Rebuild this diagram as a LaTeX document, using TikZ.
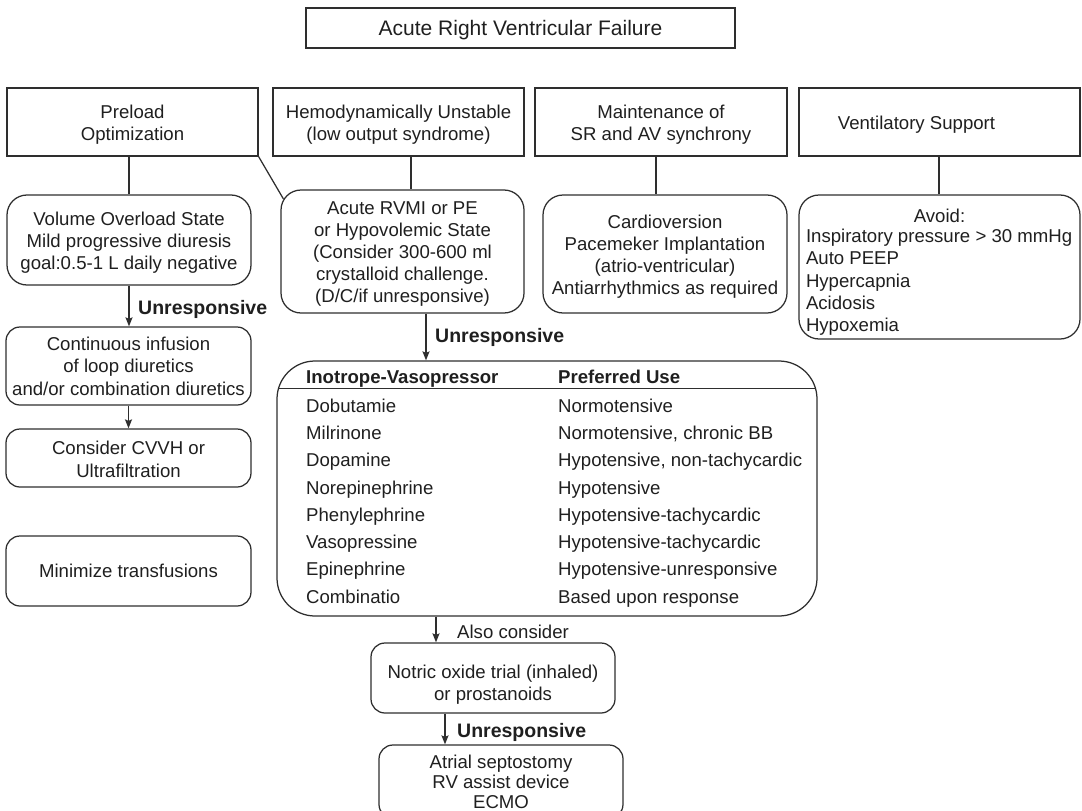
\documentclass[tikz,border=0pt]{standalone}
\usepackage{fontspec}
\setmainfont{Liberation Sans}
\usetikzlibrary{arrows.meta,calc}
\newcommand\topsp[1]{\rule{0pt}{#1pt}}
\tikzset{
  every node/.style={text=black!88},
  sq/.style={draw=black!82, line width=1.25pt, rectangle, inner sep=0pt, align=center,
             font=\fontsize{18.6}{22}\selectfont},
  rbox/.style={sq, rounded corners=20pt},
  sbox/.style={sq, rounded corners=14pt},
  conn/.style={draw=black!82, line width=1.25pt},
  arr/.style={conn, -{Stealth[length=9pt, width=7pt, inset=1.5pt]}},
  lbl/.style={anchor=base west, inner sep=0pt, font=\fontsize{19.5}{22}\selectfont\bfseries},
  cell/.style={anchor=base west, inner sep=0pt, font=\fontsize{18.6}{22}\selectfont},
  hcell/.style={cell, font=\fontsize{18.6}{22}\selectfont\bfseries},
}
\begin{document}
\begin{tikzpicture}[x=1pt, y=-1pt]
\useasboundingbox (0,0) rectangle (1082,811);
\clip (0,0) rectangle (1082,811);

% title
\node[sq, minimum width=429pt, minimum height=40pt, font=\fontsize{21}{24}\selectfont] (title) at (520.5,28) {\topsp{19.3}Acute Right Ventricular Failure};

% top row
\node[sq, minimum width=251pt, minimum height=68pt] (preload) at (132.5,122) {\topsp{19.6}Preload\\Optimization};
\node[sq, minimum width=251pt, minimum height=68pt] (hemo) at (398.5,122) {\topsp{19.6}Hemodynamically Unstable\\(low output syndrome)};
\node[sq, minimum width=252pt, minimum height=68pt] (maint) at (661,122) {\topsp{19.6}Maintenance of\\SR and AV synchrony};
\node[sq, minimum width=281pt, minimum height=68pt] (vent) at (939.5,122) {\topsp{19.6}Ventilatory Support\hspace*{46pt}};

% second row
\node[rbox, minimum width=244pt, minimum height=90pt] (vol) at (129,240) {\topsp{19.6}Volume Overload State\\Mild progressive diuresis\\goal:0.5-1 L daily negative};
\node[rbox, minimum width=243pt, minimum height=123pt] (acute) at (402.5,251.5) {\topsp{17.6}Acute RVMI or PE\\or Hypovolemic State\\(Consider 300-600 ml\\crystalloid challenge.\\(D/C/if unresponsive)};
\node[rbox, minimum width=244pt, minimum height=118pt] (cardio) at (665,254) {\topsp{19.6}Cardioversion\\Pacemeker Implantation\\(atrio-ventricular)\\Antiarrhythmics as required};
\node[rbox, minimum width=281pt, minimum height=144pt, align=left, inner xsep=7pt, font=\fontsize{18.6}{22.3}\selectfont] (avoid) at (939.5,267) {\topsp{23.6}\makebox[267pt]{Avoid:}\\[-2pt]Inspiratory pressure > 30 mmHg\\Auto PEEP\\Hypercapnia\\Acidosis\\Hypoxemia};

% left column
\node[sbox, minimum width=245pt, minimum height=78pt, font=\fontsize{18.6}{22.5}\selectfont] (cont) at (128.5,366) {Continuous infusion\\of loop diuretics\\and/or combination diuretics};
\node[sbox, minimum width=245pt, minimum height=58pt, font=\fontsize{18.6}{22.7}\selectfont] (cvvh) at (128.5,458) {\topsp{15.6}Consider CVVH or\\Ultrafiltration};
\node[sbox, minimum width=245pt, minimum height=70pt] (mini) at (128.5,571) {Minimize transfusions};

% table
\node[sq, rounded corners=38pt, minimum width=540pt, minimum height=255pt] (tab) at (547,488.5) {};
\draw[conn] ($(tab.north west)+(2,28.3)$) coordinate (hl1) -- ($(tab.north east)+(-2,28.3)$) coordinate (hl2);
\node[hcell] (h1) at (306,383.5) {Inotrope-Vasopressor};
\node[hcell] (h2) at (558,383.5) {Preferred Use};
\foreach \a/\b [count=\i] in {Dobutamie/Normotensive, Milrinone/{Normotensive, chronic BB}, Dopamine/{Hypotensive, non-tachycardic}, Norepinephrine/Hypotensive, Phenylephrine/Hypotensive-tachycardic, Vasopressine/Hypotensive-tachycardic, Epinephrine/Hypotensive-unresponsive, Combinatio/Based upon response}{
  \node[cell] (ra\i) at (306,{412.2+27.28*(\i-1)}) {\a};
  \node[cell] (rb\i) at (558,{412.2+27.28*(\i-1)}) {\b};
}

% bottom boxes
\node[sbox, minimum width=244pt, minimum height=70pt, font=\fontsize{18.6}{21.6}\selectfont] (no) at (493,678) {\topsp{26.6}Notric oxide trial (inhaled)\\or prostanoids};
\node[sbox, minimum width=244pt, minimum height=73.4pt, font=\fontsize{18.6}{20}\selectfont] (atrial) at (501,781.7) {Atrial septostomy\\RV assist device\\ECMO};

% connectors
\draw[conn] (vol.north |- preload.south) -- (vol.north);
\coordinate (dg) at ($(acute.north west)+(3,9.5)$);
\draw[conn] (preload.south east) -- (dg);
\coordinate (hs) at ($(hemo.south)+(12.5,0)$);
\draw[conn] (hs) -- (hs |- acute.north);
\coordinate (ms) at ($(maint.south)+(-5,0)$);
\draw[conn] (ms) -- (ms |- cardio.north);
\coordinate (vs) at ($(vent.south)+(-0.5,0)$);
\draw[conn] (vs) -- (vs |- avoid.north);

\draw[arr] (vol.south) -- (vol.south |- cont.north);
\draw[arr] (cont.south) -- (cvvh.north);
\coordinate (as) at ($(acute.south)+(23.5,0)$);
\draw[arr] (as) -- (as |- tab.north);
\coordinate (ts) at ($(tab.south)+(-111,0)$);
\draw[arr] (ts) -- (ts |- no.north);
\coordinate (ns) at ($(no.south)+(-48,0)$);
\draw[arr] (ns) -- (ns |- atrial.north);

% labels
\node[lbl] (u1) at (138,314) {Unresponsive};
\node[lbl] (u2) at (435,342) {Unresponsive};
\node[lbl, font=\fontsize{18.6}{22}\selectfont] (also) at (457,638.5) {Also consider};
\node[lbl] (u3) at (457,737) {Unresponsive};
\end{tikzpicture}
\end{document}
